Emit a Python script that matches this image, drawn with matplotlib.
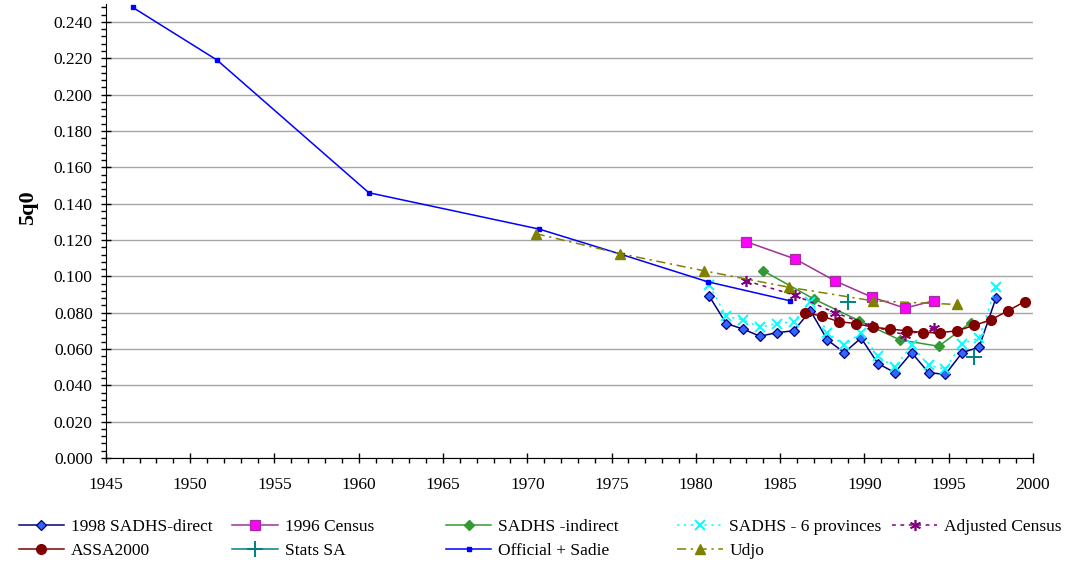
"""
5q0 estimates for South Africa from several sources, 1945-2000
"""
import numpy as np
import matplotlib
matplotlib.use("Agg")
import matplotlib.pyplot as plt
from matplotlib.ticker import MultipleLocator, FormatStrFormatter

plt.rcParams["font.family"] = ["Liberation Serif", "DejaVu Serif"]

# -------------------
# Data
# -------------------
direct_years = [1980.8, 1981.8, 1982.8, 1983.8, 1984.8, 1985.8, 1986.8, 1987.8, 1988.8,
                1989.8, 1990.8, 1991.8, 1992.8, 1993.8, 1994.8, 1995.8, 1996.8, 1997.8]
direct_q = [0.089, 0.074, 0.071, 0.067, 0.069, 0.070, 0.081, 0.065, 0.058,
            0.066, 0.052, 0.047, 0.058, 0.047, 0.046, 0.058, 0.061, 0.088]

census_years = [1983.0, 1985.9, 1988.25, 1990.45, 1992.4, 1994.1]
census_q = [0.119, 0.1095, 0.0975, 0.0885, 0.0825, 0.0865]

indirect_years = [1984.0, 1987.0, 1989.7, 1992.1, 1994.4, 1996.3]
indirect_q = [0.103, 0.0875, 0.0755, 0.065, 0.0615, 0.0745]

prov6_years = direct_years
prov6_q = [0.095, 0.078, 0.076, 0.072, 0.074, 0.075, 0.086, 0.069, 0.062,
           0.069, 0.056, 0.050, 0.062, 0.051, 0.049, 0.063, 0.066, 0.094]

adjcensus_years = census_years
adjcensus_q = [0.0975, 0.0895, 0.080, 0.0725, 0.0678, 0.0715]

assa_years = [1986.5, 1987.5, 1988.5, 1989.5, 1990.5, 1991.5, 1992.5,
              1993.5, 1994.5, 1995.5, 1996.5, 1997.5, 1998.5, 1999.5]
assa_q = [0.080, 0.078, 0.075, 0.074, 0.072, 0.071, 0.070,
          0.069, 0.069, 0.070, 0.073, 0.076, 0.081, 0.086]

statssa_years = [1989.0, 1992.75, 1996.5]
statssa_q = [0.086, np.nan, 0.0555]

official_years = [1946.6, 1951.6, 1960.6, 1970.7, 1975.6, 1980.7, 1985.6]
official_q = [0.248, 0.219, 0.146, 0.126, 0.112, 0.097, 0.0865]

udjo_years = [1970.5, 1975.5, 1980.5, 1985.5, 1990.5, 1995.5]
udjo_q = [0.1235, 0.1125, 0.1030, 0.0940, 0.0865, 0.0845]

# -------------------
# Figure
# -------------------
fig = plt.figure(figsize=(10.8, 5.65), dpi=100)
ax = fig.add_axes([0.098, 0.1894, 0.8585, 0.8039])

lw = 1.1
h_direct, = ax.plot(direct_years, direct_q, color="#000080", lw=lw, marker="D", ms=5,
                    mfc="#3366FF", mec="#000080", mew=0.9, label="1998 SADHS-direct")
h_census, = ax.plot(census_years, census_q, color="#A0309A", lw=lw, marker="s", ms=7,
                    mfc="#FF00FF", mec="#A0309A", mew=0.9, label="1996 Census")
h_indirect, = ax.plot(indirect_years, indirect_q, color="#339933", lw=lw, marker="D", ms=5,
                      mfc="#339933", mec="#339933", label="SADHS -indirect")
h_prov6, = ax.plot(prov6_years, prov6_q, color="#00FFFF", lw=lw, ls=(0, (1.5, 3)),
                   marker="x", ms=7, mew=1.4, label="SADHS - 6 provinces")
h_adj, = ax.plot(adjcensus_years, adjcensus_q, color="#800080", lw=lw, ls=(0, (2.5, 3)),
                 marker=(6, 2, 0), ms=8, mew=1.2, label="Adjusted Census")
h_assa, = ax.plot(assa_years, assa_q, color="#800000", lw=lw, marker="o", ms=7,
                  mfc="#800000", mec="#800000", label="ASSA2000")
h_stats, = ax.plot(statssa_years, statssa_q, color="#008080", lw=lw, marker="+", ms=11,
                   mew=1.4, label="Stats SA")
h_official, = ax.plot(official_years, official_q, color="#0000FF", lw=lw, marker="s", ms=2.5,
                      mfc="#0000FF", mec="#0000FF", label="Official + Sadie")
h_udjo, = ax.plot(udjo_years, udjo_q, color="#808000", lw=lw, ls=(0, (6, 3, 1.5, 3)),
                  marker="^", ms=7, mfc="#808000", mec="#808000", label="Udjo")

# -------------------
# Axes styling
# -------------------
ax.set_xlim(1945, 2000)
ax.set_ylim(0, 0.25)
ax.set_yticks(np.arange(0, 0.241, 0.02))
ax.yaxis.set_minor_locator(MultipleLocator(0.004))
ax.yaxis.set_major_formatter(FormatStrFormatter("%.3f"))
ax.xaxis.set_major_locator(MultipleLocator(5))
ax.xaxis.set_minor_locator(MultipleLocator(1))
ax.tick_params(which="major", direction="inout", length=7, width=1, labelsize=12.5, pad=6)
ax.tick_params(which="minor", direction="out", length=3.5, width=1)
ax.tick_params(axis="x", pad=10)
ax.grid(axis="y", which="major", color="#a6a6a6", lw=1)
ax.set_axisbelow(True)
for side in ["top", "right"]:
    ax.spines[side].set_visible(False)
ax.set_ylabel("5q0", fontsize=16, fontweight="bold")
ax.yaxis.set_label_coords(-0.073, 0.55)

# -------------------
# Legend (five columns placed like the original)
# -------------------
columns = [
    ([h_direct, h_assa], 0.014),
    ([h_census, h_stats], 0.212),
    ([h_indirect, h_official], 0.410),
    ([h_prov6, h_udjo], 0.624),
    ([h_adj], 0.823),
]
for handles, x0 in columns:
    fig.legend(handles=handles, loc="upper left", bbox_to_anchor=(x0, 0.087),
               frameon=False, fontsize=12.5, handlelength=2.6, handletextpad=0.4,
               labelspacing=0.45, borderpad=0.2, borderaxespad=0)

fig.savefig("out.png", dpi=100)
